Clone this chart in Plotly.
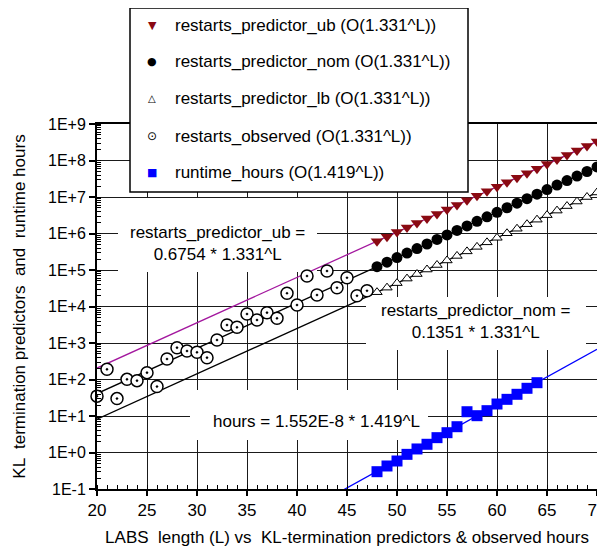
import plotly.graph_objects as go

FONT = "Liberation Sans, Arial, sans-serif"

# ---------------- data ----------------
pred_L = list(range(48, 71))
pred_ub = [6.17e5, 8.21e5, 1.093e6, 1.454e6, 1.936e6, 2.577e6, 3.430e6, 4.565e6, 6.076e6, 8.088e6,
           1.076e7, 1.433e7, 1.907e7, 2.538e7, 3.378e7, 4.496e7, 5.984e7, 7.965e7, 1.060e8,
           1.411e8, 1.878e8, 2.500e8, 3.327e8]
pred_nom = [1.233e5, 1.642e5, 2.185e5, 2.909e5, 3.871e5, 5.153e5, 6.859e5, 9.129e5, 1.215e6,
            1.617e6, 2.152e6, 2.865e6, 3.813e6, 5.075e6, 6.756e6, 8.992e6, 1.197e7, 1.593e7,
            2.120e7, 2.822e7, 3.756e7, 4.999e7, 6.653e7]
pred_lb = [2.466e4, 3.284e4, 4.370e4, 5.818e4, 7.743e4, 1.031e5, 1.372e5, 1.826e5, 2.430e5,
           3.234e5, 4.305e5, 5.730e5, 7.626e5, 1.015e6, 1.351e6, 1.798e6, 2.394e6, 3.186e6,
           4.240e6, 5.644e6, 7.512e6, 9.998e6, 1.331e7]

obs_L = list(range(20, 48))
obs_restarts = [35, 190, 30, 101, 93, 154, 64, 365, 745, 604, 555, 396, 1208, 3113, 2688, 6232,
                4270, 6770, 4745, 23000, 11000, 68500, 20650, 94000, 32700, 61500, 19760, 27100]

hours_L = list(range(48, 65))
hours = [0.298, 0.427, 0.585, 0.89, 1.25, 1.68, 2.55, 3.49, 5.09, 13.1, 10.2, 14.0, 21.3, 28.6,
         39.3, 57.4, 81.7]

fit_L = [20, 70]
fit_ub = [205.7, 3.327e8]
fit_nom = [41.14, 6.653e7]
fit_lb = [8.228, 1.331e7]
hours_fit_L = [44, 70]
hours_fit = [0.0755, 675.5]

x_tickvals = [20, 25, 30, 35, 40, 45, 50, 55, 60, 65, 70]
y_tickvals = [1e-1, 1e0, 1e1, 1e2, 1e3, 1e4, 1e5, 1e6, 1e7, 1e8, 1e9]
y_ticktext = ["1E-1", "1E+0", "1E+1", "1E+2", "1E+3", "1E+4", "1E+5", "1E+6", "1E+7", "1E+8", "1E+9"]

legend_names = ["restarts_predictor_ub (O(1.331^L))",
                "restarts_predictor_nom (O(1.331^L))",
                "restarts_predictor_lb (O(1.331^L))",
                "restarts_observed (O(1.331^L))",
                "runtime_hours (O(1.419^L))"]

UB_RED = "#8A0A12"
MAGENTA = "#A3179E"
BLUE = "#0000FF"

fig = go.Figure()

# fit lines
for xs, ys, col in [(fit_L, fit_ub, MAGENTA), (fit_L, fit_nom, "black"), (fit_L, fit_lb, "black"),
                    (hours_fit_L, hours_fit, BLUE)]:
    fig.add_trace(go.Scatter(x=xs, y=ys, mode="lines", line=dict(color=col, width=1.3),
                             showlegend=False, hoverinfo="skip"))

# data markers
fig.add_trace(go.Scatter(x=obs_L, y=obs_restarts, mode="markers", name=legend_names[3],
                         cliponaxis=False,
                         marker=dict(symbol="circle-dot", size=12, color="white",
                                     line=dict(color="black", width=1.5))))
fig.add_trace(go.Scatter(x=pred_L, y=pred_lb, mode="markers", name=legend_names[2],
                         cliponaxis=False,
                         marker=dict(symbol="triangle-up", size=9, color="white",
                                     line=dict(color="black", width=1))))
fig.add_trace(go.Scatter(x=pred_L, y=pred_nom, mode="markers", name=legend_names[1],
                         cliponaxis=False,
                         marker=dict(symbol="circle", size=11, color="black")))
fig.add_trace(go.Scatter(x=pred_L, y=pred_ub, mode="markers", name=legend_names[0],
                         cliponaxis=False,
                         marker=dict(symbol="triangle-down", size=11, color=UB_RED)))
fig.add_trace(go.Scatter(x=hours_L, y=hours, mode="markers", name=legend_names[4],
                         cliponaxis=False,
                         marker=dict(symbol="square", size=11, color=BLUE)))

# white boxes behind the formula labels (between grid and data); y in data units
boxes = [(22.1, 42.0, 10 ** 4.945, 10 ** 6.973), (46.9, 68.9, 10 ** 2.81, 10 ** 4.26),
         (29.3, 53.1, 10 ** 0.342, 10 ** 1.712)]
for x0, x1, y0, y1 in boxes:
    fig.add_shape(type="rect", xref="x", yref="y", x0=x0, x1=x1, y0=y0, y1=y1,
                  fillcolor="white", line=dict(width=0), layer="between")

ann_font = dict(family=FONT, size=17, color="black")
fig.add_annotation(x=32.0, y=5.726, xref="x", yref="y", showarrow=False, font=ann_font,
                   text="restarts_predictor_ub =<br>0.6754 * 1.331^L")
fig.add_annotation(x=57.9, y=3.59, xref="x", yref="y", showarrow=False, font=ann_font,
                   text="restarts_predictor_nom =<br>0.1351 * 1.331^L")
fig.add_annotation(x=41.9, y=0.836, xref="x", yref="y", showarrow=False, font=ann_font,
                   text="hours = 1.552E-8 * 1.419^L")

# ---------------- legend box (drawn by hand to match entry spacing) ----------------
fig.add_shape(type="rect", xref="paper", yref="paper", x0=0.066, x1=0.742, y0=0.8137, y1=1.3178,
              fillcolor="white", line=dict(color="black", width=1.5), layer="above")
leg_glyphs = [("▼", UB_RED, 11), ("●", "black", 11), ("△", "black", 10), ("⊙", "black", 12),
              ("■", BLUE, 11)]
leg_y = [1.2712, 1.1699, 1.0685, 0.9671, 0.8658]
for nm, (g, col, sz), yy in zip(legend_names, leg_glyphs, leg_y):
    fig.add_annotation(x=0.11, y=yy, xref="paper", yref="paper", showarrow=False,
                       xanchor="center", yanchor="middle", text=g,
                       font=dict(family="DejaVu Sans", size=sz, color=col))
    fig.add_annotation(x=0.152, y=yy, xref="paper", yref="paper", showarrow=False,
                       xanchor="left", yanchor="middle", text=nm,
                       font=dict(family=FONT, size=17, color="black"))

fig.update_layout(
    width=605, height=541,
    margin=dict(l=89, r=16, t=116, b=60),
    paper_bgcolor="white", plot_bgcolor="white",
    font=dict(family=FONT, size=17, color="black"),
    showlegend=False,
    xaxis=dict(range=[20, 70], tickmode="array", tickvals=x_tickvals, automargin=False,
               ticks="outside", ticklen=5, tickwidth=1.5, tickcolor="black",
               showline=True, linecolor="black", linewidth=2, mirror=True,
               showgrid=True, gridcolor="#1a1a1a", gridwidth=1, zeroline=False,
               tickfont=dict(family=FONT, size=17),
               minor=dict(dtick=1, tick0=20, ticks="inside", ticklen=4, tickcolor="black",
                          tickwidth=1.2, showgrid=False),
               title=dict(text="LABS  length (L) vs  KL-termination predictors & observed hours",
                          font=dict(family=FONT, size=17), standoff=12)),
    yaxis=dict(type="log", range=[-1, 9], tickmode="array", tickvals=y_tickvals, ticktext=y_ticktext,
               automargin=False,
               ticks="outside", ticklen=6, tickwidth=1.5, tickcolor="black",
               showline=True, linecolor="black", linewidth=2, mirror=True,
               showgrid=True, gridcolor="#1a1a1a", gridwidth=1, zeroline=False,
               tickfont=dict(family=FONT, size=16),
               minor=dict(dtick="D1", ticks="inside", ticklen=4, tickcolor="black",
                          tickwidth=1, showgrid=False),
               title=dict(text="KL  termination predictors  and  runtime hours",
                          font=dict(family=FONT, size=17), standoff=18)),
)

fig.write_html("out.html")
